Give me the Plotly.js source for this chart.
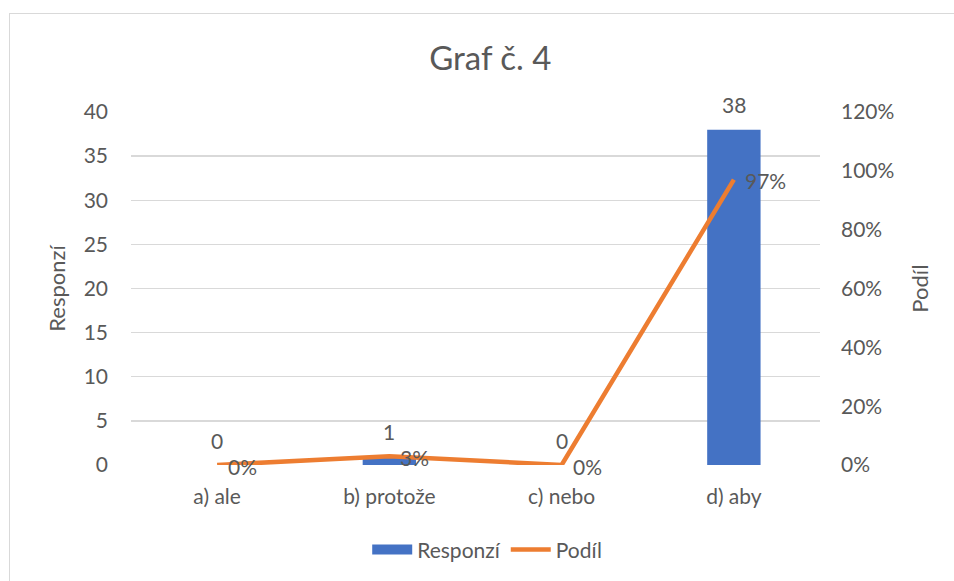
<!DOCTYPE html>
<html>
<head>
<meta charset="utf-8">
<script src="https://cdn.plot.ly/plotly-3.0.1.min.js"></script>
<style>
html,body{margin:0;padding:0;background:#fff;}
#frame{position:absolute;left:9px;top:13px;width:1000px;height:700px;border:1.5px solid #d9d9d9;box-sizing:border-box;}
#chart{position:absolute;left:0;top:0;width:954px;height:581px;}
</style>
</head>
<body>
<div id="frame"></div>
<div id="chart"></div>
<script>
const categories = ["a) ale", "b) protože", "c) nebo", "d) aby"];
const responses = [0, 1, 0, 38];
const shares = [0, 0.03, 0, 0.97];
const shareLabels = ["0%", "3%", "0%", "97%"];
const leftTicks = [0, 5, 10, 15, 20, 25, 30, 35, 40];
const rightTicks = [0, 0.2, 0.4, 0.6, 0.8, 1.0, 1.2];
const rightTickLabels = ["0%", "20%", "40%", "60%", "80%", "100%", "120%"];

const FONT = "Lato, 'Open Sans', sans-serif";
const GRAY = "#595959";
const FS = 21;

const traces = [
  {
    type: "bar", name: "Responzí", x: categories, y: responses,
    marker: {color: "#4472C4"}, width: 0.31, yaxis: "y", hoverinfo: "skip", showlegend: false
  },
  {
    type: "scatter", mode: "lines", name: "Responzí", x: [null], y: [null],
    line: {color: "#4472C4", width: 13}, yaxis: "y", hoverinfo: "skip", showlegend: true
  },
  {
    type: "scatter", mode: "lines", name: "Podíl", x: categories, y: shares,
    line: {color: "#ED7D31", width: 4.5}, yaxis: "y2", hoverinfo: "skip"
  }
];

const annotations = [];
categories.forEach((c, i) => {
  annotations.push({x: c, y: responses[i], xref: "x", yref: "y", text: String(responses[i]),
    showarrow: false, yshift: 25, font: {family: FONT, size: FS, color: GRAY}});
  annotations.push({x: c, y: shares[i], xref: "x", yref: "y2", text: shareLabels[i],
    showarrow: false, xanchor: "left", xshift: 9, yshift: -1, font: {family: FONT, size: FS, color: GRAY}});
});

const layout = {
  width: 954, height: 581,
  margin: {l: 131, r: 134, t: 112, b: 115},
  paper_bgcolor: "rgba(0,0,0,0)", plot_bgcolor: "rgba(0,0,0,0)",
  font: {family: FONT, color: GRAY, size: FS},
  title: {text: "Graf č. 4", x: 0.514, xref: "container", y: 1 - 58/581, yref: "container",
    xanchor: "center", yanchor: "middle", font: {family: FONT, size: 33, color: GRAY}},
  showlegend: true,
  legend: {orientation: "h", x: 0.517, xanchor: "center", y: -0.237, yanchor: "middle",
    font: {family: FONT, size: FS, color: GRAY}, traceorder: "normal", itemwidth: 40},
  xaxis: {type: "category", showgrid: false, zeroline: false, showline: false, ticks: "",
    tickfont: {family: FONT, size: FS, color: GRAY}, ticklabelstandoff: 17, fixedrange: true},
  yaxis: {range: [0, 40], tickvals: leftTicks, showgrid: true, gridcolor: "#d9d9d9", gridwidth: 1.3,
    zeroline: false, showline: false, ticks: "", ticklabelstandoff: 22,
    tickfont: {family: FONT, size: FS, color: GRAY},
    title: {text: "Responzí", font: {family: FONT, size: 22, color: GRAY}, standoff: 11}},
  yaxis2: {range: [0, 1.2], overlaying: "y", side: "right", tickvals: rightTicks, ticktext: rightTickLabels,
    showgrid: false, zeroline: false, showline: false, ticks: "", ticklabelstandoff: 20,
    tickfont: {family: FONT, size: FS, color: GRAY},
    title: {text: "Podíl", font: {family: FONT, size: 22, color: GRAY}, standoff: 19}},
  annotations: annotations,
  bargap: 0.69
};

Plotly.newPlot("chart", traces, layout, {displayModeBar: false, staticPlot: true});
</script>
</body>
</html>
